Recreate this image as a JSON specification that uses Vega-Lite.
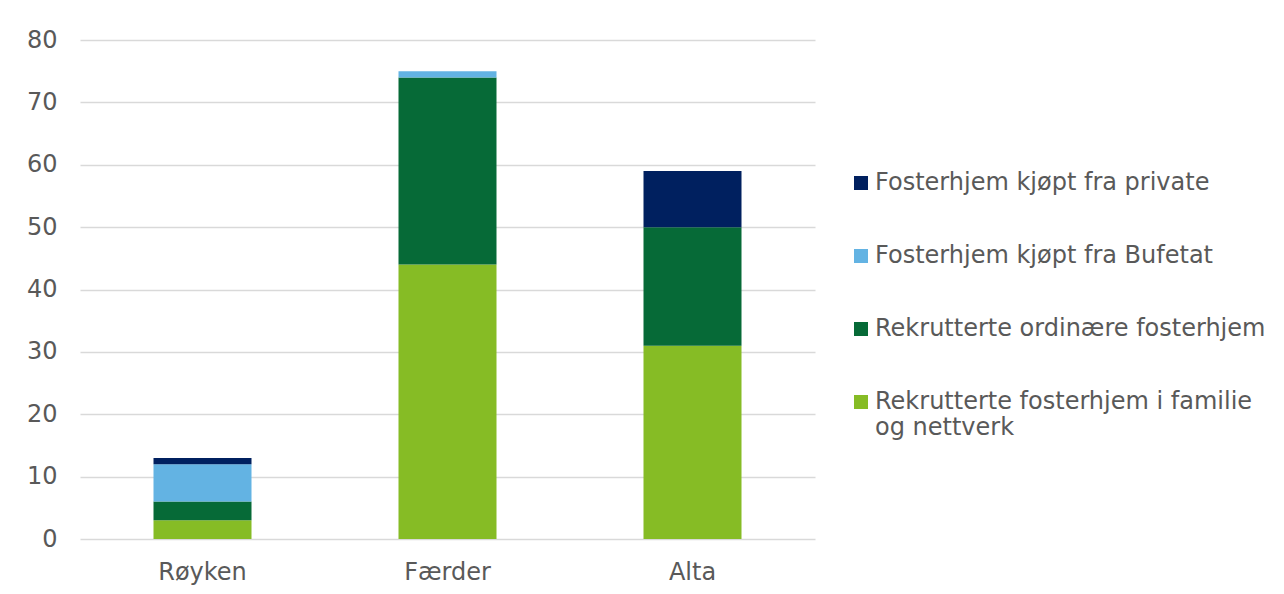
{
  "$schema": "https://vega.github.io/schema/vega-lite/v6.json",
  "width": 735,
  "height": 499,
  "autosize": {"type": "none"},
  "padding": {"left": 80, "top": 40, "right": 469, "bottom": 55},
  "background": "white",
  "config": {
    "view": {"stroke": null},
    "font": "DejaVu Sans"
  },
  "data": {
    "values": [
      {"kommune": "Røyken", "type": "Rekrutterte fosterhjem i familie og nettverk", "k": 1, "antall": 3},
      {"kommune": "Røyken", "type": "Rekrutterte ordinære fosterhjem", "k": 2, "antall": 3},
      {"kommune": "Røyken", "type": "Fosterhjem kjøpt fra Bufetat", "k": 3, "antall": 6},
      {"kommune": "Røyken", "type": "Fosterhjem kjøpt fra private", "k": 4, "antall": 1},
      {"kommune": "Færder", "type": "Rekrutterte fosterhjem i familie og nettverk", "k": 1, "antall": 44},
      {"kommune": "Færder", "type": "Rekrutterte ordinære fosterhjem", "k": 2, "antall": 30},
      {"kommune": "Færder", "type": "Fosterhjem kjøpt fra Bufetat", "k": 3, "antall": 1},
      {"kommune": "Færder", "type": "Fosterhjem kjøpt fra private", "k": 4, "antall": 0},
      {"kommune": "Alta", "type": "Rekrutterte fosterhjem i familie og nettverk", "k": 1, "antall": 31},
      {"kommune": "Alta", "type": "Rekrutterte ordinære fosterhjem", "k": 2, "antall": 19},
      {"kommune": "Alta", "type": "Fosterhjem kjøpt fra Bufetat", "k": 3, "antall": 0},
      {"kommune": "Alta", "type": "Fosterhjem kjøpt fra private", "k": 4, "antall": 9}
    ]
  },
  "mark": {"type": "bar"},
  "encoding": {
    "x": {
      "field": "kommune",
      "type": "nominal",
      "sort": ["Røyken", "Færder", "Alta"],
      "scale": {"paddingInner": 0.6, "paddingOuter": 0.3},
      "axis": {
        "title": null,
        "labelAngle": 0,
        "labelFontSize": 24,
        "labelColor": "#595959",
        "labelPadding": 21,
        "ticks": false,
        "domain": false
      }
    },
    "y": {
      "field": "antall",
      "type": "quantitative",
      "stack": "zero",
      "scale": {"domain": [0, 80], "nice": false},
      "axis": {
        "title": null,
        "values": [0, 10, 20, 30, 40, 50, 60, 70, 80],
        "labelFontSize": 24,
        "labelColor": "#595959",
        "labelPadding": 23,
        "ticks": false,
        "domain": false,
        "grid": true,
        "gridColor": "#d9d9d9",
        "gridWidth": 1.5
      }
    },
    "order": {"field": "k", "type": "quantitative", "sort": "ascending"},
    "color": {
      "field": "type",
      "type": "nominal",
      "scale": {
        "domain": ["Fosterhjem kjøpt fra private", "Fosterhjem kjøpt fra Bufetat", "Rekrutterte ordinære fosterhjem", "Rekrutterte fosterhjem i familie og nettverk"],
        "range": ["#00205F", "#63B3E3", "#066A37", "#86BC25"]
      },
      "legend": {
        "title": null,
        "orient": "none",
        "legendX": 769,
        "legendY": 131,
        "symbolType": "square",
        "symbolSize": 196,
        "symbolStrokeWidth": 0,
        "labelFontSize": 24,
        "labelColor": "#595959",
        "labelOffset": 2,
        "labelLimit": 500,
        "rowPadding": 49,
        "labelExpr": "datum.label == 'Rekrutterte fosterhjem i familie og nettverk' ? ['Rekrutterte fosterhjem i familie', 'og nettverk'] : datum.label"
      }
    }
  }
}
